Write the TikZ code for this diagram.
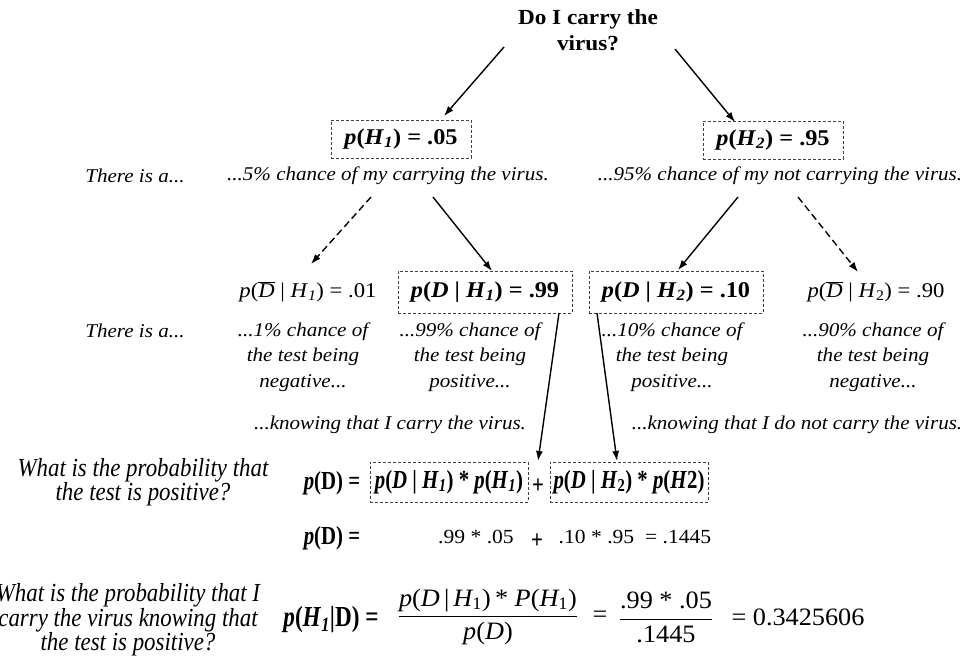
\documentclass[tikz,border=0pt]{standalone}
\usepackage{fontspec}
\setmainfont{Liberation Serif}
\newfontfamily\cam[FakeStretch=1.08]{Liberation Serif}
\newfontfamily\nrw[FakeStretch=0.8]{Liberation Serif}
\newfontfamily\nrwq[FakeStretch=0.88]{Liberation Serif}
\newfontfamily\tms[FakeStretch=1.05]{Liberation Serif}
\usetikzlibrary{arrows.meta,calc}
\newcommand\mi[1]{\textit{#1}}
\newcommand\sbi[1]{\textsubscript{\textit{#1}}}
\newcommand\ovD{$\overline{\mbox{\itshape D}}$}
\tikzset{
  dbox/.style={draw=black!75, dash pattern=on 3pt off 2pt, line width=0.8pt, inner sep=0pt},
  arr/.style={-{Latex[length=10pt,width=7pt]}, line width=1.4pt},
  darr/.style={arr, dash pattern=on 7pt off 4pt},
  qst/.style={font=\cam\fontsize{21.5}{26}\selectfont\bfseries, align=center, inner sep=0pt},
  hb/.style={font=\cam\fontsize{22.5}{24}\selectfont\bfseries, inner sep=0pt},
  lbl/.style={font=\cam\fontsize{19.5}{25.5}\selectfont\itshape, align=center, inner sep=0pt},
  pl/.style={font=\cam\fontsize{21}{24}\selectfont, inner sep=0pt},
  pn/.style={font=\cam\fontsize{20}{24}\selectfont, inner sep=0pt},
  nq/.style={font=\nrwq\fontsize{26}{24.5}\selectfont\itshape, align=center, inner sep=0pt},
  nb/.style={font=\nrw\fontsize{26}{25}\selectfont\bfseries, inner sep=0pt},
  nbb/.style={font=\nrw\fontsize{29}{25}\selectfont\bfseries, inner sep=0pt},
  tm/.style={font=\tms\fontsize{25}{28}\selectfont, inner sep=0pt},
}
\begin{document}
\begin{tikzpicture}[x=1pt,y=-1pt]
\useasboundingbox (0,0) rectangle (963,661);
% top question
\node[qst] (q) at (588,30) {Do I carry the\\virus?};
% first level boxes
\node[dbox, hb, minimum width=140pt, minimum height=38pt] (h1) at (401,139) {\mi{p}(\mi{H}\sbi{1}) = .05};
\node[dbox, hb, minimum width=140pt, minimum height=38pt] (h2) at (773,140) {\mi{p}(\mi{H}\sbi{2}) = .95};
\node[lbl] (t1) at (135,176) {There is a...};
\node[lbl] (c1) at (388,176) {...5\% chance of my carrying the virus.};
\node[lbl] (c2) at (780,176) {...95\% chance of my not carrying the virus.};
% second level
\node[pl] (d1) at (308,292) {\mi{p}(\ovD\ | \mi{H}\sbi{1}) = .01};
\node[dbox, hb, minimum width=174pt, minimum height=42pt] (d2) at (485,292) {\mi{p}(\mi{D} | \mi{H}\sbi{1}) = .99};
\node[dbox, hb, minimum width=174pt, minimum height=42pt] (d3) at (676,292) {\mi{p}(\mi{D} | \mi{H}\sbi{2}) = .10};
\node[pl] (d4) at (876,292) {\mi{p}(\ovD\ | \mi{H}\textsubscript{2}) = .90};
\node[lbl] (t2) at (135,331) {There is a...};
\node[lbl] (e1) at (303,357) {...1\% chance of\\the test being\\negative...};
\node[lbl] (e2) at (470,357) {...99\% chance of\\the test being\\positive...};
\node[lbl] (e3) at (672,357) {...10\% chance of\\the test being\\positive...};
\node[lbl] (e4) at (873,357) {...90\% chance of\\the test being\\negative...};
\node[lbl] (k1) at (390,425) {...knowing that I carry the virus.};
\node[lbl] (k2) at (797,425) {...knowing that I do not carry the virus.};
% p(D) formula
\node[nq] (qa) at (143,482) {What is the probability that\\the test is positive?};
\node[nb] (pd1) at (332,483) {\mi{p}(D) =};
\node[dbox, nb, minimum width=158pt, minimum height=40pt] (f1) at (449,482) {\mi{p}(\mi{D} | \mi{H}\sbi{1}) * \mi{p}(\mi{H}\sbi{1})};
\node[nb] (pl1) at (538,486) {+};
\node[dbox, nb, minimum width=158pt, minimum height=40pt] (f2) at (629,482) {\mi{p}(\mi{D} | \mi{H}\textsubscript{2}) * \mi{p}(\mi{H}2)};
\node[nb] (pd2) at (332,538) {\mi{p}(D) =};
\node[pn] (n1) at (476,537) {.99 * .05};
\node[nb] (pl2) at (537,541) {+};
\node[pn] (n2) at (635,537) {.10 * .95\ \ = .1445};
% Bayes
\node[nq] (qb) at (128,620) {What is the probability that I\\carry the virus knowing that\\the test is positive?};
\node[nbb] (ph) at (331,620) {\mi{p}(\mi{H}\sbi{1}|D) =};
\node[tm] (fr1) at (488,617) {$\displaystyle\frac{\mbox{\itshape p}\mbox{(}\mbox{\itshape D}\,\mbox{|}\,\mbox{\itshape H}\mbox{\textsubscript{1}}\mbox{)\,* }\mbox{\itshape P}\mbox{(}\mbox{\itshape H}\mbox{\textsubscript{1}}\mbox{)}}{\mbox{\itshape p}\mbox{(}\mbox{\itshape D}\mbox{)}}$};
\node[tm] (eq1) at (600,617) {=};
\node[tm] (fr2) at (666,617) {$\displaystyle\frac{\mbox{.99 * .05}}{\mbox{.1445}}$};
\node[tm] (res) at (798,617) {= 0.3425606};
% connectors
\draw[arr] ($(q.center)+(-84,17)$) -- ($(h1.center)+(43,-23)$);
\draw[arr] ($(q.center)+(87,19)$) -- ($(h2.center)+(-38,-18)$);
\draw[darr] ($(c1.center)+(-17,21)$) -- ($(d1.center)+(3,-28)$);
\draw[arr] ($(c1.center)+(45,21)$) -- ($(d2.center)+(7,-21)$);
\draw[arr] ($(c2.center)+(-42,21)$) -- ($(d3.center)+(2,-22)$);
\draw[darr] ($(c2.center)+(18,21)$) -- ($(d4.center)+(-18,-20)$);
\draw[arr] ($(d2.center)+(74,21)$) -- ($(f1.center)+(89,-21)$);
\draw[arr] ($(d3.center)+(-79,21)$) -- ($(f2.center)+(-12,-21)$);
\end{tikzpicture}
\end{document}
